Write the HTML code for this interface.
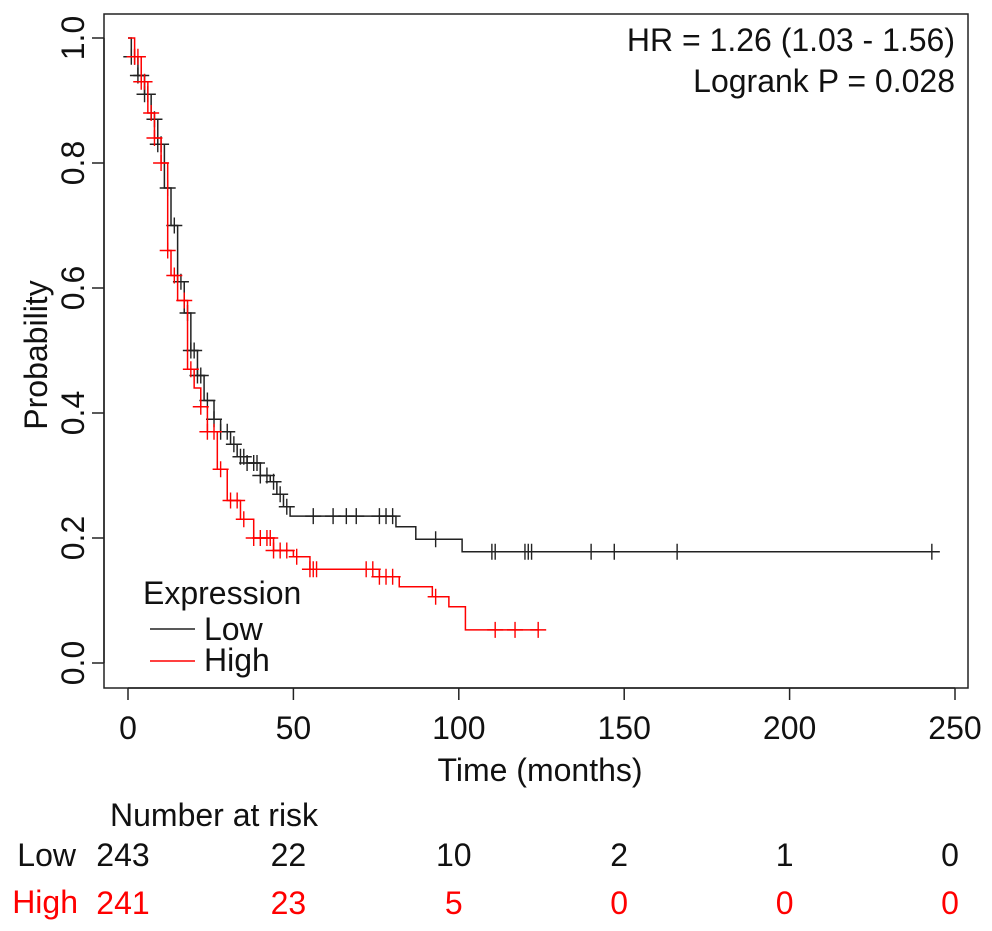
<!DOCTYPE html>
<html><head><meta charset="utf-8"><style>
body{margin:0;background:#fff}
svg{display:block;font-family:"Liberation Sans",Arial,sans-serif}
</style></head><body>
<svg id="chart" width="992" height="931" viewBox="0 0 992 931">
<rect x="104" y="14" width="864" height="674" fill="none" stroke="#222" stroke-width="1.5"/>
<g id="axes"></g>
<g id="curves"></g>
<text x="955" y="51" font-size="32" text-anchor="end" fill="#111">HR = 1.26 (1.03 - 1.56)</text>
<text x="955" y="92" font-size="32" text-anchor="end" fill="#111">Logrank P = 0.028</text>
<text x="540" y="781" font-size="32" text-anchor="middle" fill="#111">Time (months)</text>
<text transform="translate(47,355) rotate(-90)" font-size="32" text-anchor="middle" fill="#111">Probability</text>
<g>
<text x="143" y="604" font-size="32" fill="#111">Expression</text>
<line x1="150" y1="629" x2="195" y2="629" stroke="#222" stroke-width="1.5"/>
<text x="204" y="640" font-size="32" fill="#111">Low</text>
<line x1="150" y1="661" x2="195" y2="661" stroke="#f00" stroke-width="1.5"/>
<text x="204" y="671" font-size="32" fill="#111">High</text>
</g>
<text x="110" y="826" font-size="32" fill="#111">Number at risk</text>
<text x="76" y="866" font-size="32" text-anchor="end" fill="#111">Low</text>
<text x="78" y="913" font-size="32" text-anchor="end" fill="#f00">High</text>
<g id="risk"></g>
</svg>
<script>
const xTicks=[0,50,100,150,200,250];
const yTicks=[0.0,0.2,0.4,0.6,0.8,1.0];
const lowTimes=[0,1,3,5,7,9,11,13,15,17,19,21,23,26,28,31,33,36,40,43,45,47,49,81,87,101,243];
const lowSurv=[1.0,0.97,0.94,0.91,0.87,0.83,0.76,0.70,0.61,0.56,0.50,0.46,0.42,0.39,0.37,0.35,0.33,0.32,0.30,0.29,0.27,0.25,0.235,0.218,0.198,0.178,0.178];
const highTimes=[0,2,4,6,8,10,12,13,15,18,20,22,24,27,30,34,38,44,50,55,76,82,92,97,102,124];
const highSurv=[1.0,0.97,0.93,0.88,0.84,0.80,0.66,0.62,0.58,0.47,0.44,0.41,0.37,0.31,0.26,0.23,0.20,0.18,0.17,0.15,0.138,0.122,0.106,0.09,0.053,0.053];
const lowCensor=[1,2,3,4,5,6,8,9,10,12,14,16,18,19,20,21,22,24,26,28,30,32,34,35,36,38,39,40,42,44,46,48,56,62,66,69,76,78,80,93,110,111,120,121,122,140,147,166,243];
const highCensor=[2,3,4,5,7,8,10,12,14,17,19,22,24,26,28,31,33,35,38,40,42,43,44,46,48,51,55,56,57,72,74,76,78,80,93,111,117,124];
const lowRisk=[243,22,10,2,1,0];
const highRisk=[241,23,5,0,0,0];
const X=t=>128+t*3.308, Y=s=>663-s*625;
const NS='http://www.w3.org/2000/svg';
function mk(tag,attrs,parent){const e=document.createElementNS(NS,tag);for(const k in attrs)e.setAttribute(k,attrs[k]);parent.appendChild(e);return e;}
const axes=document.getElementById('axes');
const xa=mk('line',{x1:X(0),x2:X(250),y1:688,y2:688,stroke:'#222','stroke-width':1.5},axes);


const ya=mk('line',{x1:104,x2:104,y1:Y(0),y2:Y(1),stroke:'#222','stroke-width':1.5},axes);


xTicks.forEach(t=>{
 const l=mk('line',{x1:X(t),x2:X(t),y1:688,y2:700,stroke:'#222','stroke-width':1.5},axes);
 
 
 const tx=mk('text',{x:X(t),y:739,'font-size':32,'text-anchor':'middle',fill:'#111'},axes);tx.textContent=t;
 
 
});
yTicks.forEach(s=>{
 const l=mk('line',{x1:92,x2:104,y1:Y(s),y2:Y(s),stroke:'#222','stroke-width':1.5},axes);
 
 
 const tx=mk('text',{transform:`translate(${84},${Y(s)}) rotate(-90)`,'font-size':32,'text-anchor':'middle',fill:'#111'},axes);tx.textContent=s.toFixed(1);
 
 
});
function survAt(ts,ss,t){let v=ss[0];for(let i=0;i<ts.length;i++){if(ts[i]<=t)v=ss[i];}return v;}
function drawCurve(ts,ss,cens,color,name){
 const g=document.getElementById('curves');
 let d=`M${X(ts[0])},${Y(ss[0])}`;
 for(let i=1;i<ts.length;i++){d+=`H${X(ts[i])}V${Y(ss[i])}`;}
 const p=mk('path',{d,fill:'none',stroke:color,'stroke-width':1.5},g);
 
 
 cens.forEach(t=>{
  const x=X(t),y=Y(survAt(ts,ss,t));
  const c=mk('path',{d:`M${x-8},${y}H${x+8}M${x},${y-8}V${y+8}`,stroke:color,'stroke-width':1.4,fill:'none'},g);
  
  
 });
}
drawCurve(lowTimes,lowSurv,lowCensor,'#222','low');
drawCurve(highTimes,highSurv,highCensor,'#f00','high');
const risk=document.getElementById('risk');
xTicks.forEach((t,i)=>{
 const a=mk('text',{x:X(t)-5,y:866,'font-size':32,'text-anchor':'middle',fill:'#111'},risk);a.textContent=lowRisk[i];
 
 
 const b=mk('text',{x:X(t)-5,y:914,'font-size':32,'text-anchor':'middle',fill:'#f00'},risk);b.textContent=highRisk[i];
 
 
});
</script>
</body></html>
